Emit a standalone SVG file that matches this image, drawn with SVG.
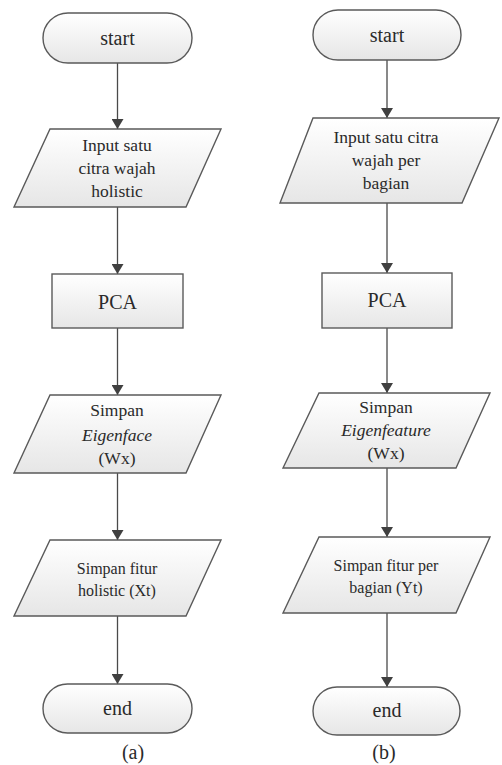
<svg xmlns="http://www.w3.org/2000/svg" width="502" height="765" viewBox="0 0 502 765">
<defs>
<linearGradient id="g" x1="0" y1="0" x2="0" y2="1">
<stop offset="0" stop-color="#ffffff"/>
<stop offset="1" stop-color="#e6e6e6"/>
</linearGradient>
<marker id="arr" viewBox="0 0 10 12" refX="10" refY="6" markerWidth="10" markerHeight="12" markerUnits="userSpaceOnUse" orient="auto">
<path d="M0,0 L10,6 L0,12 Z" fill="#404040"/>
</marker>
<style>
.s{fill:url(#g);stroke:#5a5a5a;stroke-width:1.4}
text{font-family:'Liberation Serif','Times New Roman',serif;fill:#2a2a2a;text-anchor:middle}
.b{font-size:20px}
.m{font-size:17.5px}
.n{font-size:16px}
.c{stroke:#4a4a4a;stroke-width:1.3;fill:none;marker-end:url(#arr)}
</style>
</defs>
<rect width="502" height="765" fill="#ffffff"/>
<g id="connectors">
<line class="c" x1="117.5" y1="63" x2="117.5" y2="129"/>
<line class="c" x1="117.5" y1="207" x2="117.5" y2="274"/>
<line class="c" x1="117.5" y1="328" x2="117.5" y2="395"/>
<line class="c" x1="117.5" y1="473" x2="117.5" y2="540"/>
<line class="c" x1="117.5" y1="616" x2="117.5" y2="684"/>
<line class="c" x1="387" y1="60" x2="387" y2="118"/>
<line class="c" x1="387" y1="203" x2="387" y2="273"/>
<line class="c" x1="387" y1="328" x2="387" y2="393"/>
<line class="c" x1="387" y1="468" x2="387" y2="537"/>
<line class="c" x1="387" y1="613" x2="387" y2="687"/>
</g>
<g id="a-start">
<rect class="s" x="43" y="13" width="149" height="50" rx="25"/>
<text class="b" x="117.5" y="45">start</text>
</g>
<g id="a-input">
<polygon class="s" points="50,129 221,129 186,207 14,207"/>
<text class="m" x="117" y="151">Input satu</text>
<text class="m" x="117" y="174">citra wajah</text>
<text class="m" x="117" y="197">holistic</text>
</g>
<g id="a-pca">
<rect class="s" x="52" y="274" width="131" height="54"/>
<text class="b" x="117.5" y="309">PCA</text>
</g>
<g id="a-eigen">
<polygon class="s" points="50,395 221,395 186,473 14,473"/>
<text class="m" x="117" y="416">Simpan</text>
<text class="m" x="117" y="441" font-style="italic">Eigenface</text>
<text class="m" x="117" y="464">(Wx)</text>
</g>
<g id="a-fitur">
<polygon class="s" points="50,540 221,540 186,616 14,616"/>
<text class="n" x="117" y="574">Simpan fitur</text>
<text class="n" x="117" y="596">holistic (Xt)</text>
</g>
<g id="a-end">
<rect class="s" x="43" y="684" width="149" height="49" rx="24.5"/>
<text class="b" x="117.5" y="715">end</text>
</g>
<g id="label-a">
<text class="b" x="133" y="759">(a)</text>
</g>
<g id="b-start">
<rect class="s" x="313" y="10" width="148" height="50" rx="25"/>
<text class="b" x="387" y="42">start</text>
</g>
<g id="b-input">
<polygon class="s" points="313,118 499,118 462,203 280,203"/>
<text class="m" x="386" y="143">Input satu citra</text>
<text class="m" x="386" y="166">wajah per</text>
<text class="m" x="386" y="189">bagian</text>
</g>
<g id="b-pca">
<rect class="s" x="322" y="273" width="130" height="55"/>
<text class="b" x="387" y="307">PCA</text>
</g>
<g id="b-eigen">
<polygon class="s" points="319,393 490,393 456,468 283,468"/>
<text class="m" x="386" y="413">Simpan</text>
<text class="m" x="386" y="436" font-style="italic">Eigenfeature</text>
<text class="m" x="386" y="459">(Wx)</text>
</g>
<g id="b-fitur">
<polygon class="s" points="319,537 490,537 456,613 283,613"/>
<text class="n" x="386" y="571">Simpan fitur per</text>
<text class="n" x="386" y="593">bagian (Yt)</text>
</g>
<g id="b-end">
<rect class="s" x="313" y="687" width="147" height="48" rx="24"/>
<text class="b" x="387" y="717">end</text>
</g>
<g id="label-b">
<text class="b" x="384" y="759">(b)</text>
</g>
</svg>
